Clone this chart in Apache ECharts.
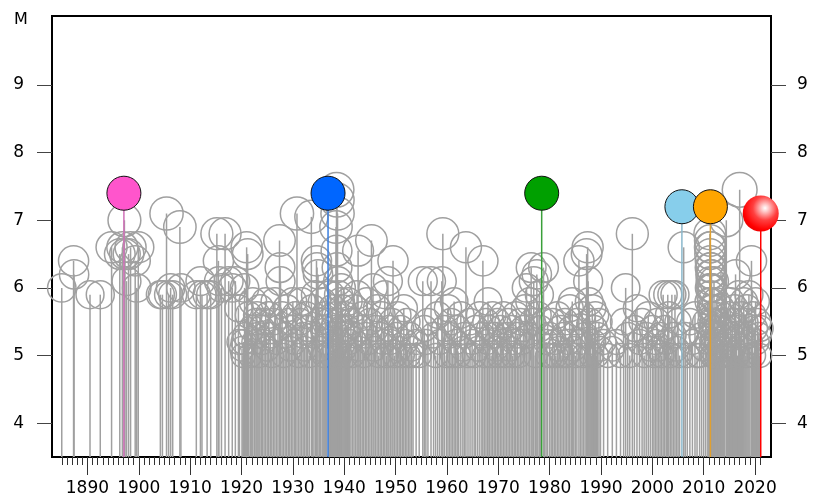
<!DOCTYPE html>
<html>
<head>
<meta charset="utf-8">
<script src="https://cdn.jsdelivr.net/npm/echarts@6/dist/echarts.min.js"></script>
<style>
html,body{margin:0;padding:0;background:#fff;}
#chart{width:820px;height:499px;}
</style>
</head>
<body>
<div id="chart"></div>
<script>
// ---- data: [year, magnitude] ----
const events1885_1919 = [[1885.0,6.0],[1887.3,6.4],[1887.4,6.2],[1890.5,5.9],[1892.5,5.9],[1894.7,6.6],[1896.3,6.5],[1896.8,6.6],[1897.2,7.0],[1897.3,6.5],[1897.6,6.1],[1898.0,6.5],[1898.4,6.6],[1899.3,6.4],[1899.6,6.0],[1899.9,6.6],[1904.2,5.9],[1904.6,5.9],[1905.4,7.1],[1905.8,5.9],[1906.2,6.0],[1906.6,5.9],[1908.0,6.9],[1908.2,6.0],[1911.2,5.9],[1912.0,6.1],[1912.3,5.9],[1913.3,5.9],[1914.0,5.9],[1915.2,6.8],[1915.5,6.4],[1915.6,6.1],[1916.1,6.0],[1916.8,6.8],[1917.5,6.1],[1918.2,6.0],[1918.8,6.1],[1919.4,5.7],[1919.6,5.2]];
const events1920_1955 = [[1920.1,5.1],[1920.3,5.0],[1920.4,5.2],[1920.6,6.0],[1920.8,5.3],[1921.0,6.6],[1921.2,6.5],[1921.4,5.6],[1921.7,5.0],[1922.0,5.4],[1922.2,5.8],[1922.5,5.2],[1922.8,5.5],[1923.0,5.6],[1923.2,5.3],[1923.4,5.0],[1923.6,5.7],[1923.9,5.4],[1924.1,5.2],[1924.4,5.5],[1924.7,5.8],[1925.0,5.1],[1925.3,5.6],[1925.6,5.3],[1925.9,5.0],[1926.2,5.5],[1926.5,5.8],[1926.8,5.2],[1927.1,5.4],[1927.4,6.7],[1927.5,6.3],[1927.6,6.1],[1927.9,5.6],[1928.2,5.0],[1928.5,5.3],[1928.8,5.7],[1929.1,5.5],[1929.4,5.1],[1929.7,5.4],[1930.0,5.8],[1930.3,5.2],[1930.5,5.6],[1930.8,7.1],[1931.1,5.0],[1931.4,5.5],[1931.7,5.8],[1932.0,5.3],[1932.3,5.1],[1932.6,5.6],[1932.9,5.4],[1933.2,5.0],[1933.6,7.05],[1933.8,5.7],[1934.1,5.3],[1934.4,5.9],[1934.6,6.4],[1934.7,6.3],[1934.9,6.2],[1935.2,5.5],[1935.4,5.1],[1935.7,5.8],[1935.9,5.4],[1936.1,5.0],[1936.3,5.6],[1936.5,5.2],[1936.9,5.5],[1937.1,5.3],[1937.3,5.9],[1937.5,5.0],[1937.7,5.7],[1937.9,5.4],[1938.1,5.1],[1938.3,5.6],[1938.4,6.9],[1938.5,7.45],[1938.6,7.3],[1938.7,7.1],[1938.5,6.55],[1938.6,6.3],[1938.8,6.1],[1938.9,5.9],[1939.0,5.5],[1939.1,5.2],[1939.2,5.0],[1939.3,5.8],[1939.4,6.0],[1939.5,5.4],[1939.6,5.7],[1939.8,5.3],[1940.0,5.1],[1940.2,5.6],[1940.4,5.0],[1940.6,5.4],[1940.8,5.8],[1941.0,5.2],[1941.3,5.5],[1941.6,5.0],[1941.9,5.7],[1942.2,5.3],[1942.5,5.9],[1942.7,6.55],[1942.9,5.1],[1943.2,5.4],[1943.5,5.6],[1943.8,5.0],[1944.1,5.3],[1944.4,5.8],[1944.7,5.2],[1945.0,5.5],[1945.3,6.7],[1945.6,6.0],[1945.8,5.1],[1946.1,5.4],[1946.4,5.7],[1946.7,5.0],[1947.0,5.3],[1947.3,5.6],[1947.6,5.2],[1947.9,5.9],[1948.2,5.0],[1948.5,6.1],[1948.7,5.4],[1949.0,5.2],[1949.3,5.5],[1949.5,6.4],[1949.8,5.0],[1950.1,5.3],[1950.4,5.6],[1950.7,5.1],[1951.0,5.4],[1951.3,5.0],[1951.6,5.7],[1951.9,5.2],[1952.2,5.5],[1952.5,5.0],[1952.8,5.3],[1953.1,5.1],[1953.4,5.0],[1954.0,5.2],[1954.6,5.0],[1955.3,6.1],[1955.6,5.4],[1955.9,5.2]];
const events1956_1979 = [[1956.3,5.5],[1956.9,6.1],[1957.4,5.3],[1957.8,5.0],[1958.2,5.6],[1958.6,5.2],[1959.0,6.1],[1959.2,6.8],[1959.5,5.4],[1959.9,5.0],[1960.2,5.7],[1960.5,5.3],[1960.8,5.5],[1961.1,5.0],[1961.4,5.8],[1961.7,5.2],[1962.0,5.4],[1962.3,5.0],[1962.7,5.6],[1963.1,5.1],[1963.4,5.3],[1963.7,6.6],[1964.1,5.0],[1964.5,5.5],[1964.9,5.2],[1965.3,5.0],[1965.6,5.4],[1966.0,5.1],[1966.4,5.6],[1966.8,5.3],[1967.0,6.4],[1967.3,5.0],[1967.6,5.5],[1967.9,5.2],[1968.0,5.8],[1968.3,5.4],[1968.6,5.0],[1968.9,5.6],[1969.2,5.3],[1969.5,5.1],[1969.8,5.5],[1970.1,5.0],[1970.4,5.4],[1970.7,5.2],[1971.0,5.6],[1971.3,5.0],[1971.6,5.3],[1971.9,5.5],[1972.2,5.1],[1972.5,5.4],[1972.8,5.0],[1973.1,5.2],[1973.4,5.6],[1973.7,5.3],[1974.0,5.0],[1974.3,5.5],[1974.6,5.2],[1974.9,5.4],[1975.2,5.7],[1975.5,6.0],[1975.8,5.3],[1976.1,5.8],[1976.4,6.3],[1976.6,5.5],[1976.9,6.1],[1977.2,5.0],[1977.5,6.2],[1977.7,5.6],[1978.0,5.9],[1978.2,5.4],[1978.8,6.3],[1979.0,5.5],[1979.3,5.2],[1979.6,5.0]];
const events1980_2008 = [[1980.0,5.3],[1980.3,5.0],[1980.6,5.5],[1980.9,5.2],[1981.2,5.0],[1981.5,5.6],[1981.8,5.1],[1982.1,5.4],[1982.4,5.0],[1982.7,5.3],[1983.0,5.5],[1983.3,5.0],[1983.6,5.2],[1983.9,5.7],[1984.2,5.4],[1984.4,5.8],[1984.7,5.1],[1985.0,5.0],[1985.3,5.5],[1985.7,6.4],[1986.0,5.2],[1986.3,5.6],[1986.6,5.0],[1986.9,5.3],[1987.2,6.5],[1987.4,6.6],[1987.5,6.1],[1987.7,5.8],[1987.9,5.5],[1988.1,5.0],[1988.3,5.7],[1988.5,5.2],[1988.7,5.4],[1988.9,5.6],[1989.1,5.0],[1989.3,5.3],[1989.6,5.5],[1989.9,5.1],[1990.5,5.2],[1991.3,5.0],[1992.2,5.1],[1993.0,5.2],[1993.8,5.0],[1994.4,5.5],[1994.8,6.0],[1995.2,5.3],[1995.6,5.0],[1996.1,6.8],[1996.5,5.4],[1997.0,5.7],[1997.5,5.2],[1998.0,5.5],[1998.4,5.0],[1998.8,5.3],[1999.2,5.6],[1999.6,5.1],[2000.0,5.4],[2000.3,5.0],[2000.6,5.2],[2000.9,5.5],[2001.2,5.1],[2001.5,5.3],[2001.8,5.0],[2002.1,5.9],[2002.4,5.4],[2002.7,5.2],[2003.0,5.9],[2003.2,5.6],[2003.5,5.0],[2003.8,5.9],[2004.1,5.3],[2004.4,5.9],[2004.7,5.1],[2005.0,5.5],[2005.3,5.0],[2006.1,6.6],[2006.4,5.3],[2006.8,5.0],[2007.3,5.5],[2007.8,5.2],[2008.3,5.6],[2008.7,5.0]];
const events2009_2021 = [[2009.2,5.0],[2009.6,5.3],[2010.0,5.1],[2010.4,5.5],[2010.8,5.2],[2011.0,5.8],[2011.15,6.0],[2011.2,6.8],[2011.22,6.6],[2011.24,6.5],[2011.25,6.3],[2011.27,6.7],[2011.3,6.4],[2011.32,6.2],[2011.33,6.1],[2011.35,5.9],[2011.37,6.6],[2011.38,5.7],[2011.4,6.0],[2011.42,5.5],[2011.43,6.3],[2011.45,5.3],[2011.47,5.8],[2011.5,5.1],[2011.52,6.2],[2011.55,5.6],[2011.58,5.0],[2011.6,5.4],[2011.65,6.0],[2011.7,5.2],[2011.75,5.7],[2011.8,5.0],[2011.85,5.5],[2011.9,5.3],[2012.0,6.1],[2012.1,5.6],[2012.2,5.0],[2012.3,5.4],[2012.4,5.8],[2012.5,5.2],[2012.7,5.5],[2012.9,5.0],[2013.1,5.3],[2013.3,5.7],[2013.5,5.1],[2013.7,5.5],[2013.9,5.0],[2014.1,5.4],[2014.4,7.0],[2014.6,5.2],[2014.8,5.6],[2015.0,5.0],[2015.2,5.8],[2015.4,5.3],[2015.6,5.5],[2015.8,5.1],[2016.0,5.7],[2016.2,6.2],[2016.4,5.4],[2016.6,5.0],[2016.8,5.9],[2017.0,7.45],[2017.2,5.3],[2017.4,5.6],[2017.6,5.1],[2017.8,5.8],[2018.0,5.5],[2018.2,5.0],[2018.4,5.7],[2018.6,5.3],[2018.8,5.9],[2019.0,5.2],[2019.3,6.4],[2019.5,5.6],[2019.7,5.0],[2019.9,5.4],[2020.1,5.8],[2020.3,5.2],[2020.5,5.5],[2020.7,5.3],[2020.9,5.0],[2021.0,5.4]];

const highlightYears = [1897.1, 1936.85, 1978.45, 2005.75, 2011.3, 2021.1];
const highlightMags  = [7.4, 7.4, 7.4, 7.2, 7.2, 7.1];

const decadeTicks = [1890,1900,1910,1920,1930,1940,1950,1960,1970,1980,1990,2000,2010,2020];
const yearTicks = [1885,1886,1887,1888,1889,1890,1891,1892,1893,1894,1895,1896,1897,1898,1899,1900,1901,1902,1903,1904,1905,1906,1907,1908,1909,1910,1911,1912,1913,1914,1915,1916,1917,1918,1919,1920,1921,1922,1923,1924,1925,1926,1927,1928,1929,1930,1931,1932,1933,1934,1935,1936,1937,1938,1939,1940,1941,1942,1943,1944,1945,1946,1947,1948,1949,1950,1951,1952,1953,1954,1955,1956,1957,1958,1959,1960,1961,1962,1963,1964,1965,1966,1967,1968,1969,1970,1971,1972,1973,1974,1975,1976,1977,1978,1979,1980,1981,1982,1983,1984,1985,1986,1987,1988,1989,1990,1991,1992,1993,1994,1995,1996,1997,1998,1999,2000,2001,2002,2003,2004,2005,2006,2007,2008,2009,2010,2011,2012,2013,2014,2015,2016,2017,2018,2019,2020,2021];
const magTicks = [4,5,6,7,8,9];

// ---- styles ----
const GREY = '#a0a0a0';
const hiFill = ['#ff55cc', '#0066ff', '#00a000', '#87ceeb', '#ffa500', null];
const hiStem = ['#d070b8', '#3a7fe0', '#3aa03a', '#8ab8cc', '#e0a030', '#ff0000'];
const FONT = 'DejaVu Sans';
const YMIN = 3.5, YMAX = 10.02;

const grey = [].concat(events1885_1919, events1920_1955, events1956_1979, events1980_2008, events2009_2021);
const hiData = highlightYears.map((y, i) => [y, highlightMags[i]]);

function stemSeries(data, colorFn, z) {
  return {
    type: 'custom',
    z: z,
    silent: true,
    clip: true,
    encode: {x: 0, y: 1},
    data: data,
    renderItem: function (params, api) {
      const x = api.value(0), m = api.value(1);
      const p1 = api.coord([x, YMIN]);
      const p2 = api.coord([x, m]);
      return {type: 'line', shape: {x1: p1[0], y1: p1[1], x2: p2[0], y2: p2[1]},
        style: {stroke: colorFn(params.dataIndex), lineWidth: 1.5}};
    }
  };
}

const chart = echarts.init(document.getElementById('chart'), null, {renderer: 'canvas'});
const axisLabelStyle = {fontFamily: FONT, fontSize: 17, color: '#000'};

chart.setOption({
  animation: false,
  backgroundColor: '#fff',
  grid: {left: 52, right: 49, top: 16, bottom: 42, show: true, borderColor: '#000', borderWidth: 2, backgroundColor: 'transparent'},
  xAxis: [{
    type: 'value', position: 'bottom', min: 1883.1, max: 2023.1,
    axisLine: {show: true, lineStyle: {color: '#000', width: 2}},
    axisTick: {show: true, customValues: decadeTicks, length: 18, lineStyle: {color: '#333', width: 1}},
    axisLabel: Object.assign({customValues: decadeTicks, margin: 23, formatter: v => String(v)}, axisLabelStyle),
    splitLine: {show: false}
  }, {
    type: 'value', position: 'bottom', min: 1883.1, max: 2023.1,
    axisLine: {show: false},
    axisTick: {show: true, customValues: yearTicks, length: 8, lineStyle: {color: '#333', width: 1}},
    axisLabel: {show: false},
    splitLine: {show: false}
  }],
  yAxis: [{
    type: 'value', position: 'left', min: YMIN, max: YMAX,
    axisLine: {show: true, lineStyle: {color: '#000', width: 2}},
    axisTick: {show: true, customValues: magTicks, length: 15, lineStyle: {color: '#444', width: 1}},
    axisLabel: Object.assign({customValues: magTicks, margin: 28}, axisLabelStyle),
    splitLine: {show: false}
  }, {
    type: 'value', position: 'right', min: YMIN, max: YMAX,
    axisLine: {show: true, lineStyle: {color: '#000', width: 2}},
    axisTick: {show: true, customValues: magTicks, length: 15, lineStyle: {color: '#444', width: 1}},
    axisLabel: Object.assign({customValues: magTicks, margin: 26}, axisLabelStyle),
    splitLine: {show: false}
  }],
  graphic: [{type: 'text', left: 14, top: 12, z: 10, style: {text: 'M', font: '16px "DejaVu Sans"', fill: '#000'}}],
  series: [
    stemSeries(grey, () => GREY, 1),
    {
      type: 'scatter', z: 2, silent: true,
      data: grey,
      symbol: 'circle',
      symbolSize: v => 24 + (v[1] - 5) * 4.4,
      itemStyle: {color: 'rgba(0,0,0,0)', borderColor: GREY, borderWidth: 1.5, opacity: 1}
    },
    stemSeries(hiData, i => hiStem[i], 3),
    {
      type: 'scatter', z: 4, silent: true,
      itemStyle: {opacity: 1},
      data: hiData.map((d, i) => {
        if (hiFill[i]) {
          return {value: d, symbolSize: 34, itemStyle: {color: hiFill[i], borderColor: '#111', borderWidth: 1, opacity: 1}};
        }
        return {value: d, symbolSize: 36, itemStyle: {opacity: 1,
          color: {type: 'radial', x: 0.62, y: 0.35, r: 0.75, colorStops: [
            {offset: 0, color: '#ffffff'}, {offset: 0.12, color: '#ffd0d0'},
            {offset: 0.45, color: '#ff4040'}, {offset: 0.8, color: '#ff0000'}, {offset: 1, color: '#e00000'}]},
          borderWidth: 0}};
      })
    }
  ]
});
</script>
</body>
</html>
